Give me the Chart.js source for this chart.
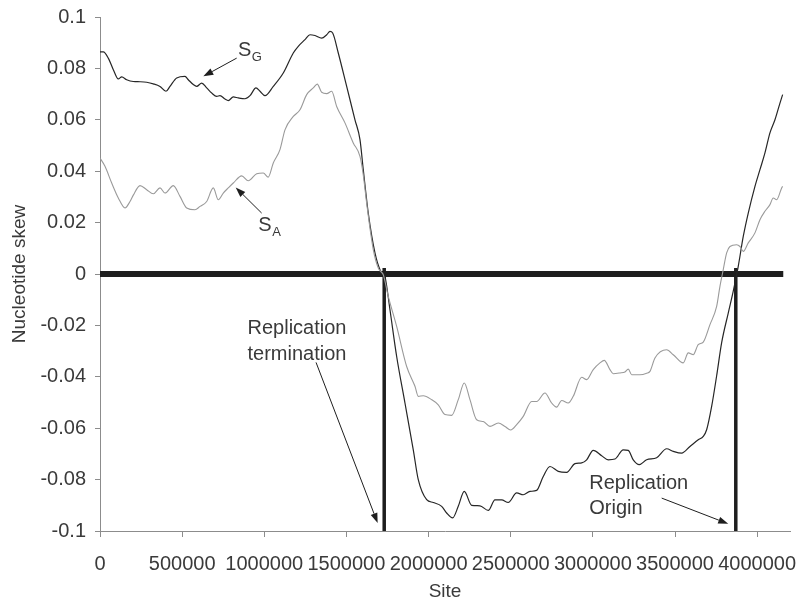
<!DOCTYPE html>
<html>
<head>
<meta charset="utf-8">
<title>Nucleotide skew along the genome</title>
<script src="https://cdn.jsdelivr.net/npm/chart.js@4/dist/chart.umd.min.js"></script>
<style>
  html, body { margin: 0; padding: 0; background: #ffffff; }
  #wrap { width: 801px; height: 605px; position: relative; }
</style>
</head>
<body>
<div id="wrap"><canvas id="chart" width="801" height="605"></canvas></div>
<script>
// G skew along the chromosome (site, skew)
const sgSites = [0, 20000, 50500, 81000, 111400, 132100, 162500, 202700, 243500, 284200,
  324400, 365200, 401700, 426000, 466800, 517300, 537400, 567900, 588500, 619000,
  649400, 679800, 710300, 730400, 760800, 780900, 811300, 841800, 882500, 913000,
  949500, 973800, 1004300, 1054800, 1115600, 1176500, 1206900, 1247700, 1278100, 1308500,
  1349300, 1379800, 1399900, 1416300, 1450400, 1501500, 1552000, 1582500, 1602500, 1632900,
  1673700, 1704200, 1724300, 1734600, 1765000, 1805800, 1856300, 1906900, 1937300, 1988400,
  2028600, 2079700, 2110100, 2146700, 2180700, 2217300, 2262300, 2312800, 2363300, 2404100,
  2444900, 2485000, 2536200, 2576400, 2617100, 2657900, 2698000, 2738900, 2789400, 2840500,
  2891000, 2931900, 2962200, 3002400, 3053500, 3093700, 3134500, 3185000, 3215500, 3245900,
  3282400, 3327500, 3388300, 3449200, 3489400, 3540500, 3591000, 3641500, 3672000, 3692600,
  3723100, 3753500, 3784000, 3824100, 3854600, 3885000, 3915500, 3945900, 3986700, 4017100,
  4047500, 4078000, 4108400, 4138900, 4155300];
const sgSkew = [0.0864, 0.0864, 0.0840, 0.0795, 0.0759, 0.0767, 0.0756, 0.0749, 0.0748, 0.0746,
  0.0740, 0.0730, 0.0711, 0.0730, 0.0763, 0.0769, 0.0756, 0.0737, 0.0730, 0.0743,
  0.0724, 0.0704, 0.0691, 0.0694, 0.0681, 0.0675, 0.0689, 0.0685, 0.0682, 0.0694,
  0.0724, 0.0711, 0.0694, 0.0730, 0.0782, 0.0860, 0.0886, 0.0912, 0.0931, 0.0928,
  0.0918, 0.0931, 0.0944, 0.0938, 0.0860, 0.0730, 0.0600, 0.0523, 0.0406, 0.0237,
  0.0082, 0.0017, 0.0001, -0.0009, -0.0139, -0.0321, -0.0502, -0.0684, -0.0800, -0.0878,
  -0.0889, -0.0904, -0.0930, -0.0949, -0.0904, -0.0846, -0.0900, -0.0902, -0.0920, -0.0879,
  -0.0879, -0.0889, -0.0852, -0.0859, -0.0846, -0.0842, -0.0788, -0.0749, -0.0768, -0.0772,
  -0.0738, -0.0735, -0.0723, -0.0686, -0.0707, -0.0723, -0.0720, -0.0684, -0.0686, -0.0723,
  -0.0742, -0.0723, -0.0715, -0.0680, -0.0690, -0.0697, -0.0671, -0.0645, -0.0632, -0.0606,
  -0.0515, -0.0396, -0.0267, -0.0152, -0.0067, 0.0030, 0.0146, 0.0237, 0.0341, 0.0406,
  0.0471, 0.0549, 0.0600, 0.0665, 0.0698];

// A skew along the chromosome (site, skew)
const saSites = [0, 30400, 71200, 111400, 152200, 182600, 202700, 243500, 284200, 324400,
  365200, 395600, 446100, 486900, 527700, 578200, 608600, 649400, 689600, 720000,
  750400, 780900, 811300, 862400, 902600, 953700, 993900, 1024300, 1054800, 1095500,
  1126000, 1176500, 1217300, 1258000, 1298200, 1322600, 1349300, 1379800, 1410200, 1440600,
  1491100, 1541600, 1582500, 1602500, 1623200, 1663400, 1693800, 1710200, 1724300, 1754700,
  1805800, 1866700, 1917200, 1937300, 1967700, 2018900, 2059000, 2099800, 2140500, 2180700,
  2217300, 2251900, 2292700, 2332900, 2373700, 2424200, 2465000, 2499600, 2536200, 2576400,
  2627500, 2657900, 2708400, 2749200, 2779600, 2810100, 2850200, 2880600, 2931900, 2962200,
  3002400, 3043200, 3069400, 3104000, 3124100, 3164900, 3195300, 3215500, 3236200, 3286700,
  3327500, 3347600, 3378000, 3449200, 3489400, 3550200, 3580700, 3611100, 3641500, 3672000,
  3712800, 3753500, 3773600, 3793700, 3814400, 3834500, 3875300, 3895400, 3915500, 3945900,
  3986700, 4017100, 4047500, 4078000, 4098100, 4118800, 4149300, 4155300];
const saSkew = [0.0451, 0.0419, 0.0354, 0.0296, 0.0257, 0.0282, 0.0307, 0.0344, 0.0328, 0.0312,
  0.0335, 0.0315, 0.0344, 0.0302, 0.0257, 0.0250, 0.0263, 0.0282, 0.0335, 0.0289,
  0.0315, 0.0335, 0.0354, 0.0382, 0.0363, 0.0390, 0.0393, 0.0377, 0.0432, 0.0484,
  0.0561, 0.0613, 0.0639, 0.0698, 0.0724, 0.0739, 0.0707, 0.0702, 0.0711, 0.0652,
  0.0588, 0.0510, 0.0458, 0.0386, 0.0276, 0.0095, 0.0023, 0.0009, -0.0003, -0.0087,
  -0.0204, -0.0360, -0.0437, -0.0476, -0.0474, -0.0489, -0.0509, -0.0547, -0.0550, -0.0489,
  -0.0424, -0.0489, -0.0567, -0.0574, -0.0593, -0.0580, -0.0593, -0.0607, -0.0586, -0.0554,
  -0.0496, -0.0496, -0.0463, -0.0502, -0.0518, -0.0492, -0.0502, -0.0476, -0.0402, -0.0411,
  -0.0372, -0.0346, -0.0336, -0.0372, -0.0388, -0.0385, -0.0381, -0.0370, -0.0392, -0.0392,
  -0.0386, -0.0379, -0.0327, -0.0295, -0.0314, -0.0346, -0.0307, -0.0314, -0.0275, -0.0265,
  -0.0197, -0.0126, -0.0048, 0.0017, 0.0082, 0.0107, 0.0114, 0.0107, 0.0088, 0.0121,
  0.0160, 0.0211, 0.0244, 0.0270, 0.0296, 0.0289, 0.0335, 0.0341];

// Replication landmarks and extent of the sequence
const terminationSite = 1730000;
const originSite = 3870000;
const sequenceEnd = 4159000;

// Axis ranges and tick values
const xRange = [0, 4200000];
const xTicks = [0, 500000, 1000000, 1500000, 2000000, 2500000, 3000000, 3500000, 4000000];
const yRange = [-0.1, 0.1];
const yTicks = [-0.1, -0.08, -0.06, -0.04, -0.02, 0, 0.02, 0.04, 0.06, 0.08, 0.1];

const textColor = '#3a3a3a';
const axisColor = '#8c8c8c';
const fontFamily = '"Liberation Sans", Arial, Helvetica, sans-serif';

const toPoints = (xs, ys) => xs.map((x, i) => ({ x: x, y: ys[i] }));

// Labels and arrows placed in data coordinates
const notes = [
  { kind: 'sub', main: 'S', sub: 'G', x: 840000, y: 0.0847 },
  { kind: 'sub', main: 'S', sub: 'A', x: 963500, y: 0.0166 },
  { kind: 'lines', lines: ['Replication', 'termination'], align: 'center', x: 1199000, y: -0.0232, y2: -0.0333 },
  { kind: 'lines', lines: ['Replication', 'Origin'], align: 'left', x: 2978000, y: -0.0838, y2: -0.0934 }
];
const arrows = [
  { from: [832000, 0.0840], to: [629000, 0.0769] },
  { from: [984000, 0.0237], to: [826000, 0.0337] },
  { from: [1315000, -0.0344], to: [1690000, -0.0969] },
  { from: [3419000, -0.0872], to: [3824000, -0.0972] }
];

const annotationPlugin = {
  id: 'skewNotes',
  afterDatasetsDraw(chart) {
    const { ctx, scales: { x, y } } = chart;
    ctx.save();
    ctx.fillStyle = textColor;
    ctx.textBaseline = 'alphabetic';
    notes.forEach(n => {
      const px = x.getPixelForValue(n.x);
      const py = y.getPixelForValue(n.y);
      if (n.kind === 'sub') {
        ctx.font = '20px ' + fontFamily;
        ctx.textAlign = 'left';
        ctx.fillText(n.main, px, py);
        const w = ctx.measureText(n.main).width;
        ctx.font = '13px ' + fontFamily;
        ctx.fillText(n.sub, px + w + 0.5, py + 5);
      } else {
        ctx.font = '20px ' + fontFamily;
        ctx.textAlign = n.align;
        ctx.fillText(n.lines[0], px, py);
        ctx.fillText(n.lines[1], px, y.getPixelForValue(n.y2));
      }
    });
    ctx.strokeStyle = '#1e1e1e';
    ctx.fillStyle = '#1e1e1e';
    ctx.lineWidth = 1;
    arrows.forEach(a => {
      const x1 = x.getPixelForValue(a.from[0]);
      const y1 = y.getPixelForValue(a.from[1]);
      const x2 = x.getPixelForValue(a.to[0]);
      const y2 = y.getPixelForValue(a.to[1]);
      const ang = Math.atan2(y2 - y1, x2 - x1);
      const len = 10, half = 3.5;
      const bx = x2 - len * Math.cos(ang);
      const by = y2 - len * Math.sin(ang);
      ctx.beginPath();
      ctx.moveTo(x1, y1);
      ctx.lineTo(bx, by);
      ctx.stroke();
      ctx.beginPath();
      ctx.moveTo(x2, y2);
      ctx.lineTo(bx + half * Math.sin(ang), by - half * Math.cos(ang));
      ctx.lineTo(bx - half * Math.sin(ang), by + half * Math.cos(ang));
      ctx.closePath();
      ctx.fill();
    });
    ctx.restore();
  }
};

const markerLine = (site) => ({
  data: [{ x: site, y: 0.0023 }, { x: site, y: yRange[0] }],
  borderColor: '#1e1e1e',
  borderWidth: 3.5,
  pointRadius: 0,
  tension: 0,
  borderCapStyle: 'butt'
});

new Chart(document.getElementById('chart'), {
  type: 'line',
  data: {
    datasets: [
      {
        label: 'SA',
        data: toPoints(saSites, saSkew),
        borderColor: '#9a9a9a',
        borderWidth: 1.1,
        pointRadius: 0,
        cubicInterpolationMode: 'monotone'
      },
      {
        label: 'SG',
        data: toPoints(sgSites, sgSkew),
        borderColor: '#262626',
        borderWidth: 1.2,
        pointRadius: 0,
        cubicInterpolationMode: 'monotone'
      },
      {
        label: 'zero',
        data: [{ x: 0, y: 0 }, { x: sequenceEnd, y: 0 }],
        borderColor: '#1e1e1e',
        borderWidth: 6,
        pointRadius: 0,
        borderCapStyle: 'butt'
      },
      markerLine(terminationSite),
      markerLine(originSite)
    ]
  },
  options: {
    responsive: false,
    animation: false,
    events: [],
    layout: { padding: { left: 0, right: 11, top: 17, bottom: 0 } },
    plugins: { legend: { display: false }, tooltip: { enabled: false } },
    scales: {
      x: {
        type: 'linear',
        min: xRange[0],
        max: xRange[1],
        afterBuildTicks(scale) { scale.ticks = xTicks.map(v => ({ value: v })); },
        afterFit(scale) {
          scale.height = 74;
          scale.paddingLeft = 0;
          scale.paddingRight = 0;
        },
        border: { display: true, color: axisColor, width: 1 },
        grid: { display: true, drawOnChartArea: false, drawTicks: true, tickLength: 6, color: axisColor },
        ticks: {
          autoSkip: false,
          maxRotation: 0,
          padding: 15,
          color: textColor,
          font: { family: fontFamily, size: 20 },
          callback: (v) => String(v)
        },
        title: {
          display: true,
          text: 'Site',
          color: textColor,
          font: { family: fontFamily, size: 19 },
          padding: { top: 4, bottom: 2 }
        }
      },
      y: {
        type: 'linear',
        min: yRange[0],
        max: yRange[1],
        afterBuildTicks(scale) { scale.ticks = yTicks.map(v => ({ value: v })); },
        afterFit(scale) {
          scale.width = 100;
          scale.paddingTop = 0;
          scale.paddingBottom = 0;
        },
        border: { display: true, color: axisColor, width: 1 },
        grid: { display: true, drawOnChartArea: false, drawTicks: true, tickLength: 5, color: axisColor },
        ticks: {
          autoSkip: false,
          padding: 9,
          color: textColor,
          font: { family: fontFamily, size: 20 },
          callback: (v) => String(Number(v.toFixed(2)))
        },
        title: {
          display: true,
          text: 'Nucleotide skew',
          color: textColor,
          font: { family: fontFamily, size: 19 },
          padding: { top: 8, bottom: 0 }
        }
      }
    }
  },
  plugins: [annotationPlugin]
});
</script>
</body>
</html>
